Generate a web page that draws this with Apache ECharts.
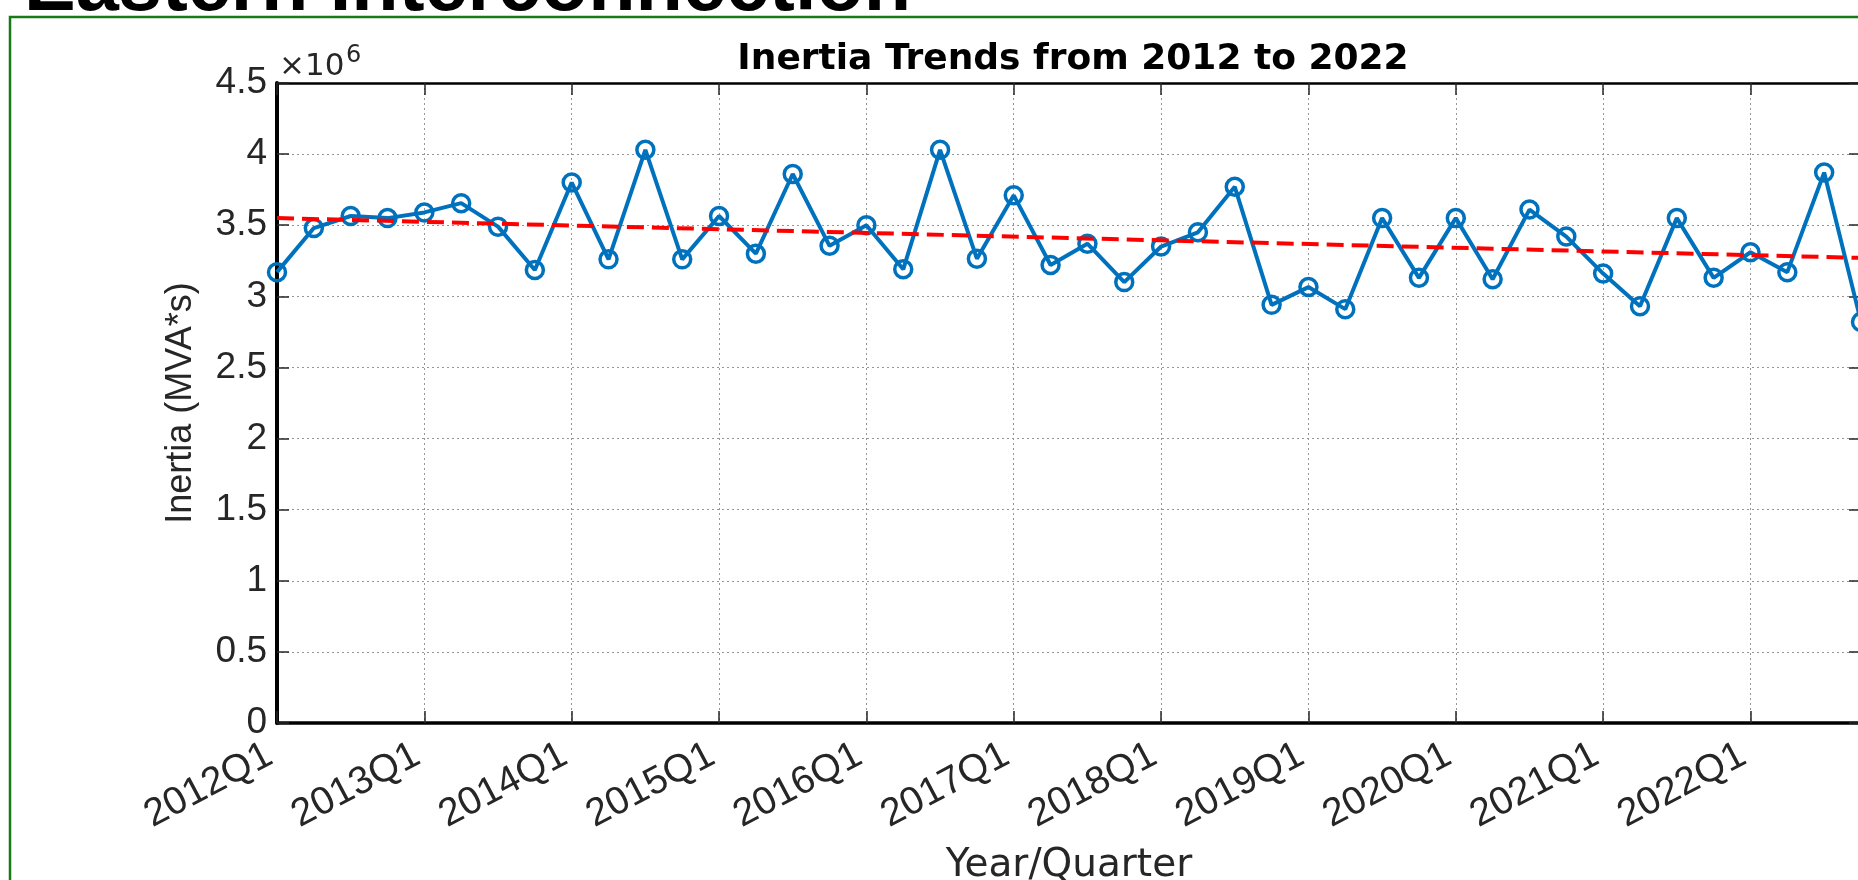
<!DOCTYPE html>
<html>
<head>
<meta charset="utf-8">
<script src="https://cdn.jsdelivr.net/npm/echarts@6/dist/echarts.min.js"></script>
<style>
  html, body { margin: 0; padding: 0; background: #fff; }
  #chart { width: 1858px; height: 880px; }
</style>
</head>
<body>
<div id="chart"></div>
<script>
// ---- data (inertia in units of 10^6 MVA*s) ----
const quarters = [
  '2012Q1','2012Q2','2012Q3','2012Q4',
  '2013Q1','2013Q2','2013Q3','2013Q4',
  '2014Q1','2014Q2','2014Q3','2014Q4',
  '2015Q1','2015Q2','2015Q3','2015Q4',
  '2016Q1','2016Q2','2016Q3','2016Q4',
  '2017Q1','2017Q2','2017Q3','2017Q4',
  '2018Q1','2018Q2','2018Q3','2018Q4',
  '2019Q1','2019Q2','2019Q3','2019Q4',
  '2020Q1','2020Q2','2020Q3','2020Q4',
  '2021Q1','2021Q2','2021Q3','2021Q4',
  '2022Q1','2022Q2','2022Q3','2022Q4'
];
const inertia = [
  3.17, 3.48, 3.565, 3.55,
  3.59, 3.655, 3.49, 3.185,
  3.80, 3.26, 4.03, 3.26,
  3.565, 3.30, 3.86, 3.355,
  3.50, 3.19, 4.03, 3.265,
  3.71, 3.22, 3.37, 3.10,
  3.35, 3.45, 3.77, 2.94,
  3.065, 2.91, 3.55, 3.13,
  3.55, 3.12, 3.61, 3.42,
  3.16, 2.93, 3.55, 3.13,
  3.31, 3.17, 3.87, 2.82
];
// trend line end points
const trendQuarters = ['2012Q1', '2022Q4'];
const trendValues = [3.55, 3.27];
const yTicks = ['0','0.5','1','1.5','2','2.5','3','3.5','4','4.5'];

const chart = echarts.init(document.getElementById('chart'), null, { renderer: 'canvas' });

const tickColor = '#262626';
const gridLine = { show: true, lineStyle: { color: '#969696', width: 1, type: [2, 3] } };
const sans = '"Liberation Sans", Arial, Helvetica, sans-serif';

const option = {
  animation: false,
  backgroundColor: '#ffffff',
  title: [
    {
      text: 'Inertia Trends from 2012 to 2022',
      left: 1068, top: 37, textAlign: 'center',
      textStyle: { fontFamily: 'DejaVu Sans', fontWeight: 'bold', fontSize: 36, color: '#000' }
    },
    {
      text: '\u00d710',
      left: 274, top: 46,
      textStyle: { fontFamily: 'DejaVu Sans', fontWeight: 'normal', fontSize: 31, color: tickColor }
    },
    {
      text: '6',
      left: 341, top: 39,
      textStyle: { fontFamily: 'DejaVu Sans', fontWeight: 'normal', fontSize: 24, color: tickColor }
    }
  ],
  graphic: [
    {
      type: 'rect', silent: true,
      shape: { x: 10, y: 17, width: 1900, height: 900 },
      style: { fill: 'none', stroke: '#167a16', lineWidth: 2.5 }
    },
    {
      type: 'text', silent: true, x: 24, y: -50,
      style: { text: 'Eastern Interconnection', font: 'bold 77.5px "Liberation Sans", Arial', fill: '#000', verticalAlign: 'top' }
    }
  ],
  grid: { left: 277, right: -3, top: 83, bottom: 157, containLabel: false, outerBoundsMode: 'none' },
  xAxis: [
    {
      type: 'category', data: quarters, boundaryGap: false, position: 'bottom',
      axisLine: { show: true, onZero: false, lineStyle: { color: '#000', width: 3.5 } },
      axisTick: { show: true, inside: true, length: 12, interval: 3, lineStyle: { color: tickColor, width: 1.5 } },
      axisLabel: { interval: 3, rotate: 28, margin: 26, padding: [0, 8, 0, 0], fontFamily: sans, fontSize: 39, color: tickColor },
      splitLine: Object.assign({ interval: 3 }, gridLine),
      name: 'Year/Quarter', nameLocation: 'middle', nameGap: 123,
      nameTextStyle: { fontFamily: 'DejaVu Sans', fontSize: 39, color: tickColor }
    },
    {
      type: 'category', data: quarters, boundaryGap: false, position: 'top',
      axisLine: { show: true, onZero: false, lineStyle: { color: '#000', width: 2.5 } },
      axisTick: { show: true, inside: true, length: 12, interval: 3, lineStyle: { color: tickColor, width: 1.5 } },
      axisLabel: { show: false },
      splitLine: { show: false }
    }
  ],
  yAxis: [
    {
      type: 'value', min: 0, max: 4.5, interval: 0.5, position: 'left',
      axisLine: { show: true, onZero: false, lineStyle: { color: '#000', width: 4 } },
      axisTick: { show: true, inside: true, length: 12, lineStyle: { color: tickColor, width: 1.5 } },
      axisLabel: {
        margin: 10, fontFamily: sans, fontSize: 37, color: tickColor,
        formatter: function (v) { return yTicks[Math.round(v / 0.5)]; }
      },
      splitLine: gridLine,
      name: 'Inertia (MVA*s)', nameLocation: 'middle', nameGap: 78, nameRotate: 90,
      nameTextStyle: { fontFamily: sans, fontSize: 36, color: tickColor }
    },
    {
      type: 'value', min: 0, max: 4.5, interval: 0.5, position: 'right',
      axisLine: { show: true, onZero: false, lineStyle: { color: '#000', width: 2.5 } },
      axisTick: { show: true, inside: true, length: 12, lineStyle: { color: tickColor, width: 1.5 } },
      axisLabel: { show: false },
      splitLine: { show: false }
    }
  ],
  series: [
    {
      name: 'Inertia', type: 'line', xAxisIndex: 0, yAxisIndex: 0,
      data: inertia, clip: false,
      symbol: 'circle', symbolSize: 17,
      itemStyle: { color: 'rgba(255,255,255,0)', borderColor: '#0072BD', borderWidth: 3.5 },
      lineStyle: { color: '#0072BD', width: 4 },
      emphasis: { disabled: true },
      z: 3
    },
    {
      name: 'Trend', type: 'line', xAxisIndex: 0, yAxisIndex: 0,
      data: trendQuarters.map(function (q, i) { return [q, trendValues[i]]; }),
      symbol: 'none', clip: false,
      lineStyle: { color: '#ff0000', width: 4, type: [17, 8] },
      emphasis: { disabled: true },
      z: 4
    }
  ]
};
chart.setOption(option);
</script>
</body>
</html>
